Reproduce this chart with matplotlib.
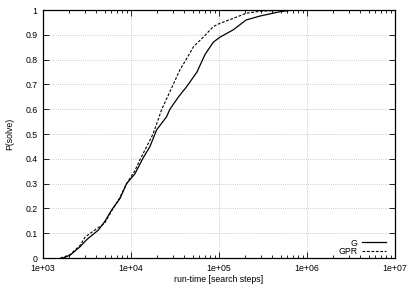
import numpy as np
import matplotlib
matplotlib.use('Agg')
import matplotlib.pyplot as plt
from matplotlib.ticker import LogLocator

plt.rcParams['font.family'] = ['Liberation Sans', 'DejaVu Sans']

# run-time [search steps] vs P(solve)
g_steps = [1700, 2040, 2630, 3160, 4270, 5010, 6030, 7500, 8910, 11100, 13800,
           16400, 19500, 25400, 27700, 34700, 42700, 56200, 69200, 86100,
           102000, 145000, 204000, 295000, 490000, 690000]
g_prob = [0.0, 0.012, 0.045, 0.075, 0.113, 0.146, 0.194, 0.24, 0.30, 0.34, 0.405,
          0.449, 0.516, 0.57, 0.60, 0.65, 0.69, 0.75, 0.82, 0.87,
          0.89, 0.92, 0.96, 0.976, 0.993, 1.0]

gpr_steps = [1580, 2000, 2630, 3020, 3890, 5010, 6030, 7500, 8910, 11000, 12600,
             17800, 22400, 30200, 36100, 40700, 51300, 66100, 86100, 102000,
             145000, 204000, 295000, 590000]
gpr_prob = [0.0, 0.012, 0.05, 0.085, 0.113, 0.14, 0.19, 0.245, 0.30, 0.35, 0.395,
            0.50, 0.60, 0.70, 0.76, 0.79, 0.852, 0.89, 0.933, 0.946,
            0.966, 0.987, 0.995, 1.0]

xticks = [1e3, 1e4, 1e5, 1e6, 1e7]
xlabels = ['1e+03', '1e+04', '1e+05', '1e+06', '1e+07']
yticks = [0, 0.1, 0.2, 0.3, 0.4, 0.5, 0.6, 0.7, 0.8, 0.9, 1]
ylabels = ['0', '0.1', '0.2', '0.3', '0.4', '0.5', '0.6', '0.7', '0.8', '0.9', '1']

fs = 6.3
fig = plt.figure(figsize=(4.07, 2.85), dpi=100)
ax = fig.add_axes([43/407, 27/285, 352/407, 248/285])

ax.plot(g_steps, g_prob, color='black', lw=0.9, label='G')
ax.plot(gpr_steps, gpr_prob, color='black', lw=0.8, dashes=(2.5, 1.5), label='GPR')

ax.set_xscale('log')
ax.set_xlim(1e3, 1e7)
ax.set_ylim(0, 1)
ax.set_xticks(xticks)
ax.set_xticklabels(xlabels)
ax.xaxis.set_minor_locator(LogLocator(base=10, subs=np.arange(2, 10)))
ax.xaxis.set_minor_formatter(plt.NullFormatter())
ax.set_yticks(yticks)
ax.set_yticklabels(ylabels)

ax.tick_params(which='both', direction='in', top=True, right=True,
               labelsize=fs, pad=4)
ax.tick_params(which='major', length=4, width=0.6)
ax.tick_params(which='minor', length=2, width=0.6)

for x in xticks[1:-1]:
    ax.axvline(x, color='#bbbbbb', lw=0.6, ls=(0, (1, 1.5)), zorder=0)
for y in yticks[1:-1]:
    ax.axhline(y, color='#bbbbbb', lw=0.6, ls=(0, (1, 1.5)), zorder=0)

for s in ax.spines.values():
    s.set_linewidth(0.9)

ax.set_xlabel('run-time [search steps]', fontsize=fs, labelpad=2)
ax.set_ylabel('P(solve)', fontsize=fs, labelpad=8)

leg = ax.legend(loc='lower right', bbox_to_anchor=(1 - 9/352, 1.5/248),
                frameon=False, markerfirst=False, fontsize=fs,
                handlelength=2.8, handletextpad=0.5, labelspacing=0.0,
                borderpad=0, borderaxespad=0)
for t in leg.get_texts():
    t.set_ha('right')

fig.savefig('out.png', dpi=100)
